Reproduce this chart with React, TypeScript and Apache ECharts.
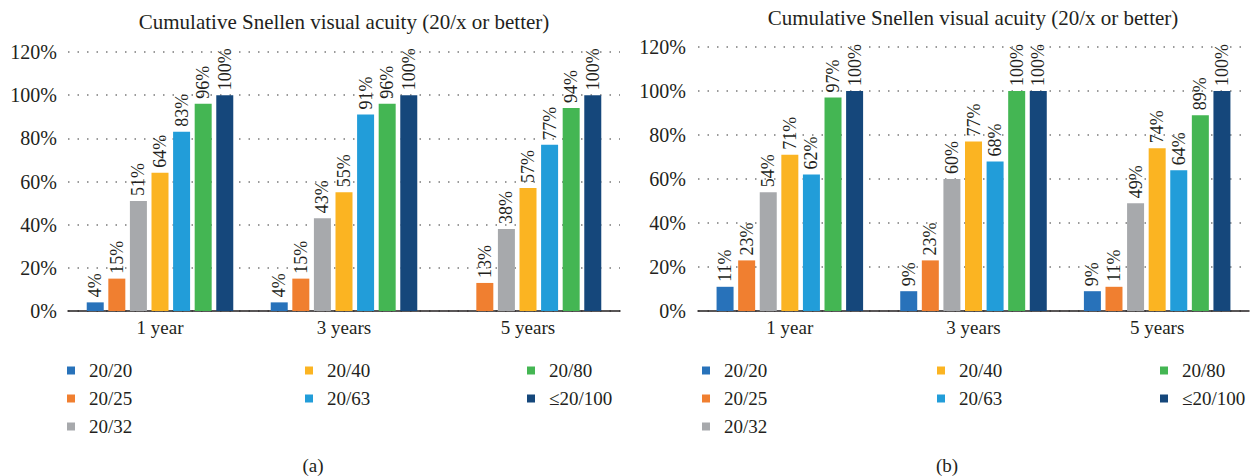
import React, { useEffect, useRef } from "react";
import * as echarts from "echarts";

const categories = ["1 year", "3 years", "5 years"];
const seriesNames = ["20/20", "20/25", "20/32", "20/40", "20/63", "20/80", "≤20/100"];
const colors = ["#2872BA", "#F07F30", "#A7A9AC", "#FBB422", "#229DD9", "#44B653", "#15477B"];

// Chart (a)
const a2020 = [4, 4, null];
const a2025 = [15, 15, 13];
const a2032 = [51, 43, 38];
const a2040 = [64, 55, 57];
const a2063 = [83, 91, 77];
const a2080 = [96, 96, 94];
const a20100 = [100, 100, 100];

// Chart (b)
const b2020 = [11, 9, 9];
const b2025 = [23, 23, 11];
const b2032 = [54, 60, 49];
const b2040 = [71, 77, 74];
const b2063 = [62, 68, 64];
const b2080 = [97, 100, 89];
const b20100 = [100, 100, 100];

const yTicks = [0, 20, 40, 60, 80, 100, 120];
const titleText = "Cumulative Snellen visual acuity (20/x or better)";
const panelLabels = ["(a)", "(b)"];

const legendCols = [
  ["20/20", "20/25", "20/32"],
  ["20/40", "20/63"],
  ["20/80", "≤20/100"],
];

const FONT = "Liberation Serif, DejaVu Serif, serif";
const TXT = "#231F20";

export default function App() {
  const ref = useRef<HTMLDivElement>(null);

  useEffect(() => {
    document.body.style.margin = "0";
    if (!ref.current) return;
    const chart = echarts.init(ref.current, undefined, { renderer: "svg" });

    const dataA = [a2020, a2025, a2032, a2040, a2063, a2080, a20100];
    const dataB = [b2020, b2025, b2032, b2040, b2063, b2080, b20100];

    const makeSeries = (data: (number | null)[][], idx: number) =>
      data.map((d, i) => ({
        name: seriesNames[i],
        type: "bar",
        xAxisIndex: idx,
        yAxisIndex: idx,
        data: d,
        barWidth: 17,
        barGap: "27%",
        itemStyle: { color: colors[i] },
        label: {
          show: true,
          position: "top",
          rotate: 90,
          align: "left",
          verticalAlign: "middle",
          distance: 5,
          fontFamily: FONT,
          fontSize: 18,
          color: TXT,
          formatter: (p: any) => (p.value == null ? "" : p.value + "%"),
        },
      }));

    const grids = [
      { left: 68, top: 52, width: 552, height: 259 },
      { left: 698, top: 47, width: 551, height: 264 },
    ];

    const xAxes = grids.map((_, i) => ({
      type: "category",
      gridIndex: i,
      data: categories,
      axisLine: { show: true, lineStyle: { color: "#231F20", width: 1.5 } },
      axisTick: { show: false },
      axisLabel: { fontFamily: FONT, fontSize: 19, color: TXT, margin: 7 },
    }));

    const yAxes = grids.map((_, i) => ({
      type: "value",
      gridIndex: i,
      min: yTicks[0],
      max: yTicks[yTicks.length - 1],
      interval: 20,
      axisLine: { show: false },
      axisTick: { show: false },
      axisLabel: {
        fontFamily: FONT,
        fontSize: 20,
        color: TXT,
        margin: i === 0 ? 11 : 12,
        formatter: "{value}%",
      },
      splitLine: {
        show: true,
        lineStyle: { color: "#7a7a7a", width: 1.5, type: [1.5, 8] },
      },
    }));

    const legendX = [
      [67, 305, 527],
      [702, 937, 1160],
    ];
    const legends: any[] = [];
    legendX.forEach((cols) => {
      cols.forEach((x, c) => {
        legends.push({
          data: legendCols[c],
          orient: "vertical",
          left: x,
          top: 361,
          padding: 0,
          itemWidth: 8,
          itemHeight: 8,
          itemGap: 9,
          icon: "rect",
          selectedMode: false,
          textStyle: {
            fontFamily: FONT,
            fontSize: 19,
            color: TXT,
            lineHeight: 18,
            padding: [0, 0, 0, 9],
          },
        });
      });
    });

    const titleStyle = (size: number) => ({
      fontFamily: FONT,
      fontSize: size,
      fontWeight: "normal",
      color: TXT,
    });

    chart.setOption({
      animation: false,
      textStyle: { fontFamily: FONT },
      title: [
        { text: titleText, left: 344, top: 11, textAlign: "center", padding: 0, textStyle: titleStyle(21) },
        { text: titleText, left: 973, top: 7, textAlign: "center", padding: 0, textStyle: titleStyle(21) },
        { text: panelLabels[0], left: 313, top: 456, textAlign: "center", padding: 0, textStyle: titleStyle(19) },
        { text: panelLabels[1], left: 947, top: 456, textAlign: "center", padding: 0, textStyle: titleStyle(19) },
      ],
      grid: grids,
      xAxis: xAxes,
      yAxis: yAxes,
      legend: legends,
      series: [...makeSeries(dataA, 0), ...makeSeries(dataB, 1)],
    });

    return () => chart.dispose();
  }, []);

  return <div ref={ref} style={{ width: 1252, height: 476, background: "#fff" }} />;
}
